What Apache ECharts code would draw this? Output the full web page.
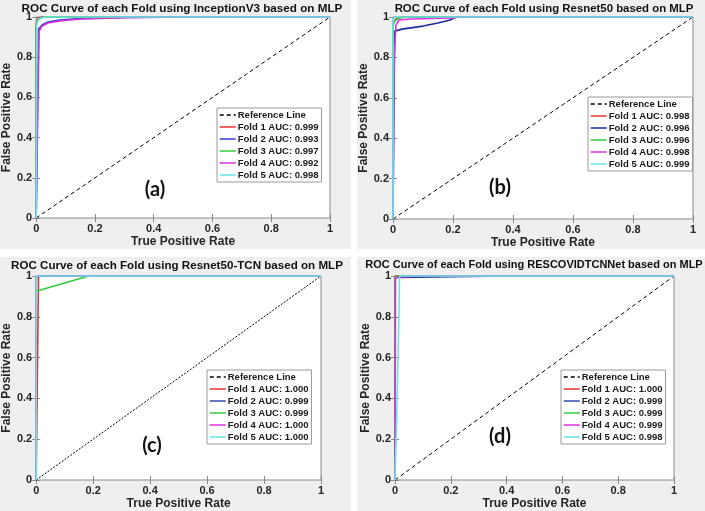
<!DOCTYPE html>
<html><head><meta charset="utf-8">
<script src="https://cdn.jsdelivr.net/npm/echarts@6/dist/echarts.min.js"></script>
<style>html,body{margin:0;padding:0;background:#fff}#c{width:705px;height:511px}</style>
</head><body><div id="c"></div>
<script>
// ---- text ----
const panelTitles = [
  'ROC Curve of each Fold using InceptionV3 based on MLP',
  'ROC Curve of each Fold using Resnet50 based on MLP',
  'ROC Curve of each Fold using Resnet50-TCN based on MLP',
  'ROC Curve of each Fold using RESCOVIDTCNNet based on MLP'
];
const panelTags = ['(a)', '(b)', '(c)', '(d)'];
const xAxisName = 'True Positive Rate';
const yAxisName = 'False Positive Rate';
const tickValues = [0, 0.2, 0.4, 0.6, 0.8, 1];
const refName = 'Reference Line';
const aucA = ['0.999', '0.993', '0.997', '0.992', '0.998'];
const aucB = ['0.998', '0.996', '0.996', '0.998', '0.999'];
const aucC = ['1.000', '0.999', '0.999', '1.000', '1.000'];
const aucD = ['1.000', '0.999', '0.999', '0.999', '0.998'];

// ---- reference diagonal ----
const refLine = [[0, 0], [1, 1]];

// ---- (a) InceptionV3 ----
const aFold1 = [[0,0],[0,0.97],[0.005,0.99],[0.02,1],[1,1]];
const aFold2 = [[0,0],[0.004,0.5],[0.008,0.94],[0.02,0.96],[0.04,0.975],[0.08,0.985],[0.15,0.992],[0.3,0.998],[0.45,1],[1,1]];
const aFold3 = [[0,0],[0,0.96],[0.005,0.985],[0.015,0.995],[0.03,1],[1,1]];
const aFold4 = [[0,0],[0.005,0.5],[0.01,0.93],[0.02,0.955],[0.04,0.97],[0.08,0.98],[0.15,0.99],[0.3,0.997],[0.5,1],[1,1]];
const aFold5 = [[0,0],[0.002,0.97],[0.01,0.99],[0.03,1],[1,1]];

// ---- (b) Resnet50 ----
const bFold1 = [[0,0],[0,0.97],[0.01,0.99],[0.03,1],[1,1]];
const bFold2 = [[0,0],[0.003,0.6],[0.006,0.93],[0.03,0.94],[0.1,0.955],[0.15,0.97],[0.19,0.985],[0.21,1],[1,1]];
const bFold3 = [[0,0],[0,0.95],[0.005,0.98],[0.02,0.995],[0.05,1],[1,1]];
const bFold4 = [[0,0],[0.004,0.8],[0.01,0.96],[0.02,0.985],[0.06,0.99],[0.2,0.995],[0.22,1],[1,1]];
const bFold5 = [[0,0],[0,0.98],[0.005,1],[1,1]];

// ---- (c) Resnet50-TCN ----
const cFold1 = [[0,0],[0.008,0.99],[0.008,1],[1,1]];
const cFold2 = [[0,0],[0,0.995],[0.01,1],[1,1]];
const cFold3 = [[0,0],[0,0.925],[0.185,1],[1,1]];
const cFold4 = [[0,0],[0,1],[1,1]];
const cFold5 = [[0,0],[0,1],[1,1]];

// ---- (d) RESCOVIDTCNNet ----
const dFold1 = [[0,0],[0,1],[1,1]];
const dFold2 = [[0,0],[0,0.99],[0.01,0.993],[0.2,0.997],[0.4,1],[1,1]];
const dFold3 = [[0,0],[0,0.995],[0.01,1],[1,1]];
const dFold4 = [[0,0],[0.002,0.99],[0.01,0.995],[0.1,1],[1,1]];
const dFold5 = [[0,0],[0.006,0.3],[0.014,0.8],[0.016,0.99],[0.018,1],[1,1]];

const panels = [
  { folds: [aFold1, aFold2, aFold3, aFold4, aFold5], auc: aucA },
  { folds: [bFold1, bFold2, bFold3, bFold4, bFold5], auc: aucB },
  { folds: [cFold1, cFold2, cFold3, cFold4, cFold5], auc: aucC },
  { folds: [dFold1, dFold2, dFold3, dFold4, dFold5], auc: aucD }
];

// ---- layout / style (not data) ----
const FONT = '"Liberation Sans", Arial, sans-serif';
const grids = [
  { left: 33, top: 17, width: 297, height: 201 },
  { left: 393, top: 17, width: 300, height: 202 },
  { left: 32, top: 276, width: 289, height: 206 },
  { left: 395, top: 276, width: 279, height: 205 }
];
const legendPos = [
  { left: 217, top: 108 }, { left: 588, top: 97 },
  { left: 207, top: 370 }, { left: 561, top: 370 }
];
const titlePos = [[182, 9], [544, 9], [177, 266], [534, 265]];
const titleSize = [11.7, 11.4, 11.6, 11];
const tagPos = [[155, 190], [500, 188], [152, 446], [500, 437]];
const yNameGap = [16, 16, 18, 15];
const bgRects = [[0, 0, 351, 249], [357, 0, 348, 249], [0, 257, 351, 254], [357, 257, 348, 254]];
const foldColors = [
  ['#ee3030', '#3a3ad0', '#30cc40', '#d830d8', '#66e6e6'],
  ['#ee3030', '#1c2aa0', '#30cc40', '#e030e0', '#66e6e6'],
  ['#ee3030', '#3048b0', '#30cc40', '#e030e0', '#66e6e6'],
  ['#ee3030', '#1c2aa0', '#30cc40', '#e030e0', '#66e6e6']
];
const refDash = [[4, 3], [4, 3], [2, 1.5], [4, 3]];

const xAxes = [], yAxes = [], series = [], legends = [], graphics = [];
const axisColor = '#8a8a8a';
const labelStyle = { color: '#262626', fontWeight: 'bold', fontSize: 11, fontFamily: FONT };

bgRects.forEach(r => graphics.push({ type: 'rect', z: -100, shape: { x: r[0], y: r[1], width: r[2], height: r[3] }, style: { fill: '#efefef' } }));

panels.forEach((p, i) => {
  const base = {
    type: 'value', gridIndex: i, min: 0, max: 1, interval: 0.2,
    splitLine: { show: false }, axisLine: { show: false },
    axisTick: { inside: true, length: 4, lineStyle: { color: axisColor } }
  };
  xAxes.push(Object.assign({}, base, {
    position: 'bottom', name: xAxisName, nameLocation: 'middle', nameGap: 18,
    nameTextStyle: { color: '#262626', fontWeight: 'bold', fontSize: 12, fontFamily: FONT },
    axisLabel: Object.assign({ margin: 5 }, labelStyle)
  }));
  xAxes.push(Object.assign({}, base, { position: 'top', axisLabel: { show: false } }));
  yAxes.push(Object.assign({}, base, {
    position: 'left', name: yAxisName, nameLocation: 'middle', nameGap: yNameGap[i],
    nameTextStyle: { color: '#262626', fontWeight: 'bold', fontSize: 12, fontFamily: FONT },
    axisLabel: Object.assign({ margin: 4 }, labelStyle)
  }));
  yAxes.push(Object.assign({}, base, { position: 'right', axisLabel: { show: false } }));

  const xi = i * 2, yi = i * 2;
  const names = [refName];
  series.push({
    type: 'line', name: refName, xAxisIndex: xi, yAxisIndex: yi, data: refLine,
    symbol: 'none', clip: false, silent: true,
    lineStyle: { color: '#000', width: 1, type: refDash[i] }, itemStyle: { color: '#000' }
  });
  p.folds.forEach((f, k) => {
    const nm = 'Fold ' + (k + 1) + ' AUC: ' + p.auc[k];
    names.push(nm);
    series.push({
      type: 'line', name: nm, xAxisIndex: xi, yAxisIndex: yi, data: f,
      symbol: 'none', clip: false,
      lineStyle: { color: foldColors[i][k], width: 1.6 }, itemStyle: { color: foldColors[i][k] }
    });
  });
  legends.push({
    data: names, orient: 'vertical', left: legendPos[i].left, top: legendPos[i].top,
    backgroundColor: '#fff', borderColor: '#9a9a9a', borderWidth: 1, borderRadius: 0,
    padding: [2, 3, 2, 2], itemGap: 2, itemWidth: 16, itemHeight: 10, selectedMode: false,
    itemStyle: { opacity: 0, borderWidth: 0 },
    lineStyle: { width: 1.5 },
    textStyle: { color: '#1a1a1a', fontWeight: 'bold', fontSize: 9.5, fontFamily: FONT, padding: [0, 0, 0, -3] }
  });
  graphics.push({ type: 'text', z: 100, x: titlePos[i][0], y: titlePos[i][1],
    style: { text: panelTitles[i], fill: '#111', font: 'bold ' + titleSize[i] + 'px ' + FONT, align: 'center', verticalAlign: 'middle' } });
  graphics.push({ type: 'text', z: 100, x: tagPos[i][0], y: tagPos[i][1],
    style: { text: panelTags[i], fill: '#111', font: 'bold 20px Lato, "Open Sans", sans-serif', align: 'center', verticalAlign: 'middle' } });
});

const chart = echarts.init(document.getElementById('c'), null, { renderer: 'canvas' });
chart.setOption({
  animation: false,
  backgroundColor: '#fff',
  grid: grids.map(g => Object.assign({ show: true, backgroundColor: '#fff', borderColor: axisColor, borderWidth: 1, containLabel: false }, g)),
  xAxis: xAxes, yAxis: yAxes, series: series, legend: legends, graphic: graphics
});
</script></body></html>
